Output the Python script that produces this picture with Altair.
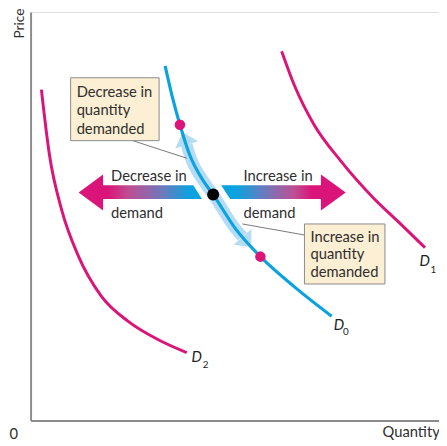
import altair as alt
import pandas as pd

# ---------------- data (Quantity / Price units) ----------------
d0_q = [33.6, 35.3, 37.3, 39.7, 43.1, 45.6, 51.2, 57.4, 65.9, 75.2]
d0_p = [86.8, 79.6, 72.4, 65.1, 58.7, 55.3, 46.9, 40.1, 32.7, 25.5]

d1_q = [62.7, 65.9, 70.8, 77.5, 85.5, 92.2, 98.5]
d1_p = [90.4, 82.0, 72.4, 63.5, 54.6, 48.3, 42.3]

d2_q = [2.7, 4.7, 7.8, 12.0, 17.6, 24.3, 32.4, 39.0]
d2_p = [81.0, 65.1, 51.4, 40.1, 30.5, 24.3, 19.5, 16.6]

# points on D0: upper (pink), original (black), lower (pink)
pt_q = [37.3, 45.6, 57.4]
pt_p = [72.4, 55.3, 40.1]
pt_kind = ["move", "start", "move"]

# movement-along-curve band and its heads
band_q = [39.0, 39.7, 43.1, 45.6, 51.2, 52.9]
band_p = [67.5, 65.1, 58.7, 55.3, 46.9, 45.0]
head_q = [38.5, 54.0]
head_p = [69.0, 43.7]
head_ang = [342, 139]

# white gap around D0 where the shift arrows meet it
gap_q = [42.2, 45.6, 49.5]
gap_p = [60.6, 55.3, 49.5]

# shift arrows (outline as x / top / bottom)
left_q = [12.0, 18.1, 18.11, 45.1]
left_top = [55.8, 60.2, 57.6, 57.6]
left_bot = [55.8, 51.4, 54.2, 54.2]
right_q = [46.3, 72.5, 72.51, 78.7]
right_top = [57.6, 57.6, 60.2, 55.8]
right_bot = [54.2, 54.2, 51.4, 55.8]

# annotation boxes
box_q1 = [10.0, 68.4]
box_q2 = [32.1, 88.5]
box_p1 = [83.9, 48.1]
box_p2 = [68.5, 33.4]
box_text = ["Decrease in", "quantity", "demanded", "Increase in", "quantity", "demanded"]
box_text_q = [11.5, 11.5, 11.5, 69.9, 69.9, 69.9]
box_text_p = [79.3, 74.8, 70.2, 43.8, 39.4, 35.1]

# leader lines
lead_q1 = [25.5, 52.9]
lead_p1 = [68.5, 48.1]
lead_q2 = [39.0, 68.4]
lead_p2 = [64.2, 45.4]

# arrow labels
arr_text = ["Decrease in", "demand", "Increase in", "demand"]
arr_q = [20.1, 20.1, 53.2, 53.2]
arr_p = [58.7, 49.5, 58.7, 49.5]

# curve labels
lab_d = ["D", "D", "D"]
lab_q = [75.7, 97.1, 40.2]
lab_p = [22.1, 37.7, 14.4]
sub_text = ["0", "1", "2"]
sub_q = [78.0, 99.9, 43.0]
sub_p = [21.0, 36.1, 12.8]

# axis labels
zero_q, zero_p = [-4.2], [-4.6]
qty_q, qty_p = [102.2], [-4.1]
price_q, price_p = [-1.7], [93.5]

PINK = "#da1479"
BLUE = "#0aa3e0"
LIGHT = "#b5dcf4"
FONT = "Lato"
TXT = "#2e2e2e"

ax = alt.Axis(title="", ticks=False, labels=False, grid=False, domain=True,
              domainColor="#8c8c8c", domainWidth=2)
xs = alt.Scale(domain=[0, 102], nice=False, zero=False)
ys = alt.Scale(domain=[0, 100], nice=False, zero=False)


def X(f):
    return alt.X(f, type="quantitative", scale=xs, axis=ax)


def Y(f):
    return alt.Y(f, type="quantitative", scale=ys, axis=ax)


curves = pd.DataFrame(
    {"q": d1_q + d2_q, "p": d1_p + d2_p,
     "curve": ["D1"] * len(d1_q) + ["D2"] * len(d2_q)})
d0 = pd.DataFrame({"q": d0_q, "p": d0_p})
band = pd.DataFrame({"q": band_q, "p": band_p})
gap = pd.DataFrame({"q": gap_q, "p": gap_p})
heads = pd.DataFrame({"q": head_q, "p": head_p, "a": head_ang})
pts = pd.DataFrame({"q": pt_q, "p": pt_p, "k": pt_kind})
left = pd.DataFrame({"q": left_q, "t": left_top, "b": left_bot})
right = pd.DataFrame({"q": right_q, "t": right_top, "b": right_bot})
boxes = pd.DataFrame({"q1": box_q1, "q2": box_q2, "p1": box_p1, "p2": box_p2})
btext = pd.DataFrame({"q": box_text_q, "p": box_text_p, "t": box_text})
leads = pd.DataFrame({"q1": lead_q1, "p1": lead_p1, "q2": lead_q2, "p2": lead_p2})
atext = pd.DataFrame({"q": arr_q, "p": arr_p, "t": arr_text})
labs = pd.DataFrame({"q": lab_q, "p": lab_p, "t": lab_d})
subs = pd.DataFrame({"q": sub_q, "p": sub_p, "t": sub_text})
zero = pd.DataFrame({"q": zero_q, "p": zero_p, "t": ["0"]})
qty = pd.DataFrame({"q": qty_q, "p": qty_p, "t": ["Quantity"]})
price = pd.DataFrame({"q": price_q, "p": price_p, "t": ["Price"]})

pink_lines = alt.Chart(curves).mark_line(color=PINK, strokeWidth=3, interpolate="monotone").encode(
    x=X("q"), y=Y("p"), detail="curve:N")

grad_left = alt.Gradient(
    gradient="linear", x1=0, x2=1, y1=0, y2=0,
    stops=[alt.GradientStop(color=PINK, offset=0), alt.GradientStop(color=PINK, offset=0.22),
           alt.GradientStop(color="#bd4f94", offset=0.38), alt.GradientStop(color="#9465a8", offset=0.52),
           alt.GradientStop(color="#6a7bbd", offset=0.64), alt.GradientStop(color="#3a8fcd", offset=0.74),
           alt.GradientStop(color=BLUE, offset=0.84), alt.GradientStop(color=BLUE, offset=1)])
grad_right = alt.Gradient(
    gradient="linear", x1=0, x2=1, y1=0, y2=0,
    stops=[alt.GradientStop(color=BLUE, offset=0), alt.GradientStop(color=BLUE, offset=0.15),
           alt.GradientStop(color="#3a8fcd", offset=0.27), alt.GradientStop(color="#6a7bbd", offset=0.37),
           alt.GradientStop(color="#9465a8", offset=0.48), alt.GradientStop(color="#bd4f94", offset=0.6),
           alt.GradientStop(color=PINK, offset=0.74), alt.GradientStop(color=PINK, offset=1)])

arrow_l = alt.Chart(left).mark_area(color=grad_left, interpolate="linear").encode(
    x=X("q"), y=Y("t"), y2="b")
arrow_r = alt.Chart(right).mark_area(color=grad_right, interpolate="linear").encode(
    x=X("q"), y=Y("t"), y2="b")

gap_line = alt.Chart(gap).mark_line(color="white", strokeWidth=24, strokeCap="butt",
                                    interpolate="monotone").encode(x=X("q"), y=Y("p"))
band_line = alt.Chart(band).mark_line(color=LIGHT, strokeWidth=12, strokeCap="butt",
                                      interpolate="monotone").encode(x=X("q"), y=Y("p"))
head_marks = alt.Chart(heads).mark_point(
    shape="M0,-0.55L1,0.55L-1,0.55Z", size=600, filled=True, color=LIGHT, opacity=1, strokeWidth=0
).encode(x=X("q"), y=Y("p"), angle=alt.Angle("a:Q", scale=None))

d0_line = alt.Chart(d0).mark_line(color=BLUE, strokeWidth=3.2, interpolate="monotone").encode(
    x=X("q"), y=Y("p"))

lead_rules = alt.Chart(leads).mark_rule(color="#555555", strokeWidth=0.8).encode(
    x=X("q1"), y=Y("p1"), x2="q2", y2="p2")
box_rects = alt.Chart(boxes).mark_rect(fill="#fcefd3", stroke="#8a8a8a", strokeWidth=1).encode(
    x=X("q1"), x2="q2", y=Y("p1"), y2="p2")
box_txt = alt.Chart(btext).mark_text(align="left", baseline="alphabetic", font=FONT,
                                     fontSize=15, color=TXT).encode(
    x=X("q"), y=Y("p"), text="t:N")

dots = alt.Chart(pts).mark_circle(opacity=1).encode(
    x=X("q"), y=Y("p"),
    color=alt.Color("k:N", scale=alt.Scale(domain=["move", "start"], range=[PINK, "#000000"]), legend=None),
    size=alt.Size("k:N", scale=alt.Scale(domain=["move", "start"], range=[115, 150]), legend=None))

arr_txt = alt.Chart(atext).mark_text(align="left", baseline="alphabetic", font=FONT,
                                     fontSize=15, color=TXT).encode(
    x=X("q"), y=Y("p"), text="t:N")
lab_txt = alt.Chart(labs).mark_text(align="left", baseline="alphabetic", font=FONT, fontSize=15,
                                    fontStyle="italic", color="#222222").encode(
    x=X("q"), y=Y("p"), text="t:N")
sub_txt = alt.Chart(subs).mark_text(align="left", baseline="alphabetic", font=FONT, fontSize=10,
                                    color="#222222").encode(
    x=X("q"), y=Y("p"), text="t:N")
zero_txt = alt.Chart(zero).mark_text(baseline="alphabetic", align="center", font=FONT,
                                     fontSize=15, color=TXT).encode(
    x=X("q"), y=Y("p"), text="t:N")
qty_txt = alt.Chart(qty).mark_text(baseline="alphabetic", align="right", font=FONT,
                                   fontSize=15, color=TXT).encode(
    x=X("q"), y=Y("p"), text="t:N")
price_txt = alt.Chart(price).mark_text(baseline="alphabetic", align="left", angle=270, font=FONT,
                                       fontSize=14, color=TXT).encode(
    x=X("q"), y=Y("p"), text="t:N")

chart = alt.layer(
    pink_lines, arrow_l, arrow_r, gap_line, band_line, head_marks, d0_line,
    lead_rules, box_rects, box_txt, dots, arr_txt, lab_txt, sub_txt,
    zero_txt, qty_txt, price_txt
).properties(
    width=416, height=416,
    autosize=alt.AutoSizeParams(type="none"),
    padding={"left": 23, "top": 0, "right": 0, "bottom": 22},
).configure_view(strokeWidth=0).configure(background="white")

chart.save("out.html", embed_options={"renderer": "svg", "actions": False})
